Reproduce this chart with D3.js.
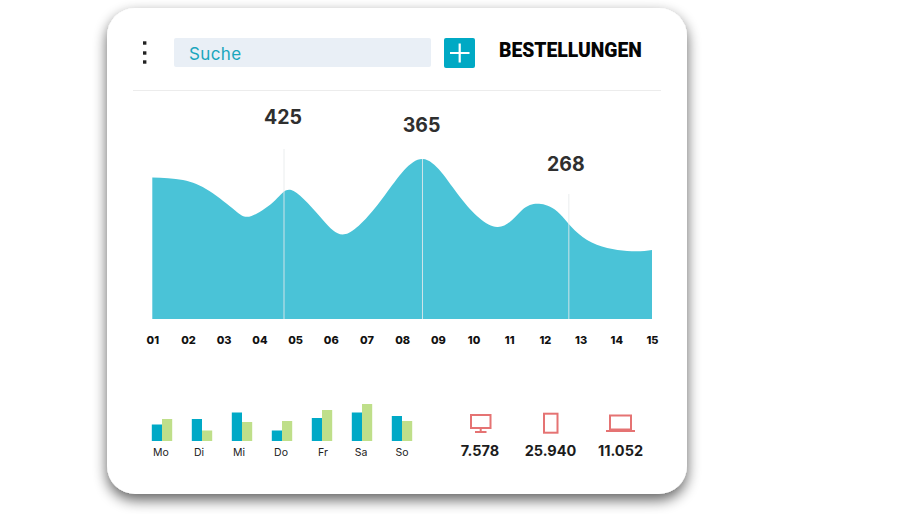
<!DOCTYPE html>
<html><head><meta charset="utf-8">
<script src="https://cdn.jsdelivr.net/npm/d3@7/dist/d3.min.js"></script>
<style>
html,body{margin:0;padding:0;background:#fff;width:920px;height:514px;overflow:hidden}
svg{display:block}
text{font-family:Inter,"Noto Sans",sans-serif}
</style></head><body><svg id="c" width="920" height="514"></svg>
<script>
const dayLabels=["01","02","03","04","05","06","07","08","09","10","11","12","13","14","15"];
const curveDays=[1,1.86,2.6,3.32,3.78,4.45,4.96,5.78,6.5,7.52,8.58,9.62,10.66,11.36,11.89,12.42,13.18,14.30,15];
const curveValues=[141.5,139,128,108.5,103,119,128,99,86,124,160,122,92,109,115,105,79,68,69];
const calloutDays=[4.69,8.57,12.67];
const calloutTops=[170,160,125];
const calloutLabels=["425","365","268"];
const weekdays=["Mo","Di","Mi","Do","Fr","Sa","So"];
const seriesBlue=[16.5,22,28.5,10.5,23,28.5,25];
const seriesGreen=[22,10.5,19,20,31,37,20];
const deviceValues=["7.578","25.940","11.052"];
const deviceCenters=[480,550.5,620.5];

const svg=d3.select("#c");
const defs=svg.append("defs");
const f=defs.append("filter").attr("id","sh").attr("x","-10%").attr("y","-10%").attr("width","120%").attr("height","125%");
f.append("feGaussianBlur").attr("in","SourceAlpha").attr("stdDeviation",7).attr("result","b");
f.append("feOffset").attr("in","b").attr("dy",6).attr("result","o");
f.append("feComponentTransfer").attr("in","o").attr("result","s").append("feFuncA").attr("type","linear").attr("slope",0.62);
const m=f.append("feMerge");m.append("feMergeNode").attr("in","s");m.append("feMergeNode").attr("in","SourceGraphic");
svg.append("rect").attr("x",107).attr("y",8).attr("width",580).attr("height",486).attr("rx",28).attr("fill","#fff").attr("filter","url(#sh)");

// header
svg.selectAll(".dot").data([43,53,62]).join("rect").attr("x",143).attr("y",d=>d-1.7).attr("width",3.4).attr("height",3.4).attr("fill","#222");
svg.append("rect").attr("x",174).attr("y",38).attr("width",257).attr("height",29).attr("rx",2).attr("fill","#e9eff6");
svg.append("text").attr("x",189).attr("y",59.5).attr("font-size",17).attr("letter-spacing",.4).attr("fill","#1ba6bd").text("Suche");
svg.append("rect").attr("x",444).attr("y",38).attr("width",31).attr("height",30).attr("rx",2).attr("fill","#00a9c4");
svg.append("path").attr("d","M450 53H469.5M459.7 43.5V62.5").attr("stroke","#fff").attr("stroke-width",2.2).attr("fill","none");
svg.append("text").attr("x",499).attr("y",57).attr("font-size",19.3).attr("font-weight",900).attr("fill","#050505").style("font-family","Roboto").text("BESTELLUNGEN");
svg.append("line").attr("x1",133).attr("x2",661).attr("y1",90.5).attr("y2",90.5).attr("stroke","#ececec");

// area
const x=d3.scaleLinear().domain([1,15]).range([152.3,652]);
const y=d3.scaleLinear().domain([0,170]).range([319,149]);
const pts=curveDays.map((d,i)=>[d,curveValues[i]]);
svg.append("path").datum(pts).attr("fill","#4ac3d7").attr("d",d3.area().x(d=>x(d[0])).y0(y(0)).y1(d=>y(d[1])).curve(d3.curveNatural));
svg.selectAll(".cl").data(calloutDays).join("line").attr("x1",d=>x(d)).attr("x2",d=>x(d)).attr("y1",(d,i)=>y(calloutTops[i])).attr("y2",y(0)).attr("stroke","#e6eaeb").attr("stroke-opacity",.85).attr("stroke-width",1);
svg.selectAll(".cv").data(calloutLabels).join("text").attr("x",(d,i)=>x(calloutDays[i])-1+(i==2?-2:0)).attr("y",(d,i)=>[124,132,171][i]).attr("text-anchor","middle").attr("font-size",19.5).attr("font-weight",700).attr("fill","#2f2f2f").text(d=>d);

const xa=d3.axisBottom(d3.scalePoint().domain(dayLabels).range(x.range())).tickSize(0).tickPadding(0);
const gx=svg.append("g").attr("transform","translate(0,336)").call(xa);
gx.select(".domain").remove();
gx.selectAll("text").attr("font-size",11).attr("font-weight",800).attr("fill","#111").style("font-family","Inter");

// bars
const band=d3.scaleBand().domain(weekdays).range([142,422]);
const bh=d3.scaleLinear().domain([0,37]).range([441,404]);
const bw=10.2;
const cx=d=>band(d)+band.bandwidth()/2;
svg.selectAll(".b").data(weekdays).join("rect").attr("x",d=>cx(d)-bw).attr("width",bw).attr("y",(d,i)=>bh(seriesBlue[i])).attr("height",(d,i)=>441-bh(seriesBlue[i])).attr("fill","#00a9c6");
svg.selectAll(".g").data(weekdays).join("rect").attr("x",d=>cx(d)).attr("width",bw).attr("y",(d,i)=>bh(seriesGreen[i])).attr("height",(d,i)=>441-bh(seriesGreen[i])).attr("fill","#bfdf8a");
const ba=d3.axisBottom(band).tickSize(0).tickPadding(0);
const gb=svg.append("g").attr("transform","translate(0,449)").call(ba);
gb.select(".domain").remove();
gb.selectAll("text").attr("font-size",10.5).attr("fill","#222").style("font-family","Inter").attr("dx",(d,i)=>[-1,-3,-3,-1,1,-1,0][i]);

// device icons
const red="#e57373";
const ic=svg.append("g").attr("fill","none").attr("stroke",red).attr("stroke-width",2);
ic.append("rect").attr("x",471).attr("y",415).attr("width",19.5).attr("height",13);
ic.append("path").attr("d","M480.7 428V431.5M475 432H486.5");
ic.append("rect").attr("x",544).attr("y",413.7).attr("width",13.5).attr("height",19);
ic.append("rect").attr("x",610).attr("y",415.5).attr("width",21).attr("height",14);
ic.append("path").attr("d","M606 431H635");
svg.selectAll(".dv").data(deviceValues).join("text").attr("x",(d,i)=>deviceCenters[i]).attr("y",456).attr("text-anchor","middle").attr("font-size",14.5).attr("font-weight",700).attr("fill","#1c1c1c").text(d=>d);
</script></body></html>
